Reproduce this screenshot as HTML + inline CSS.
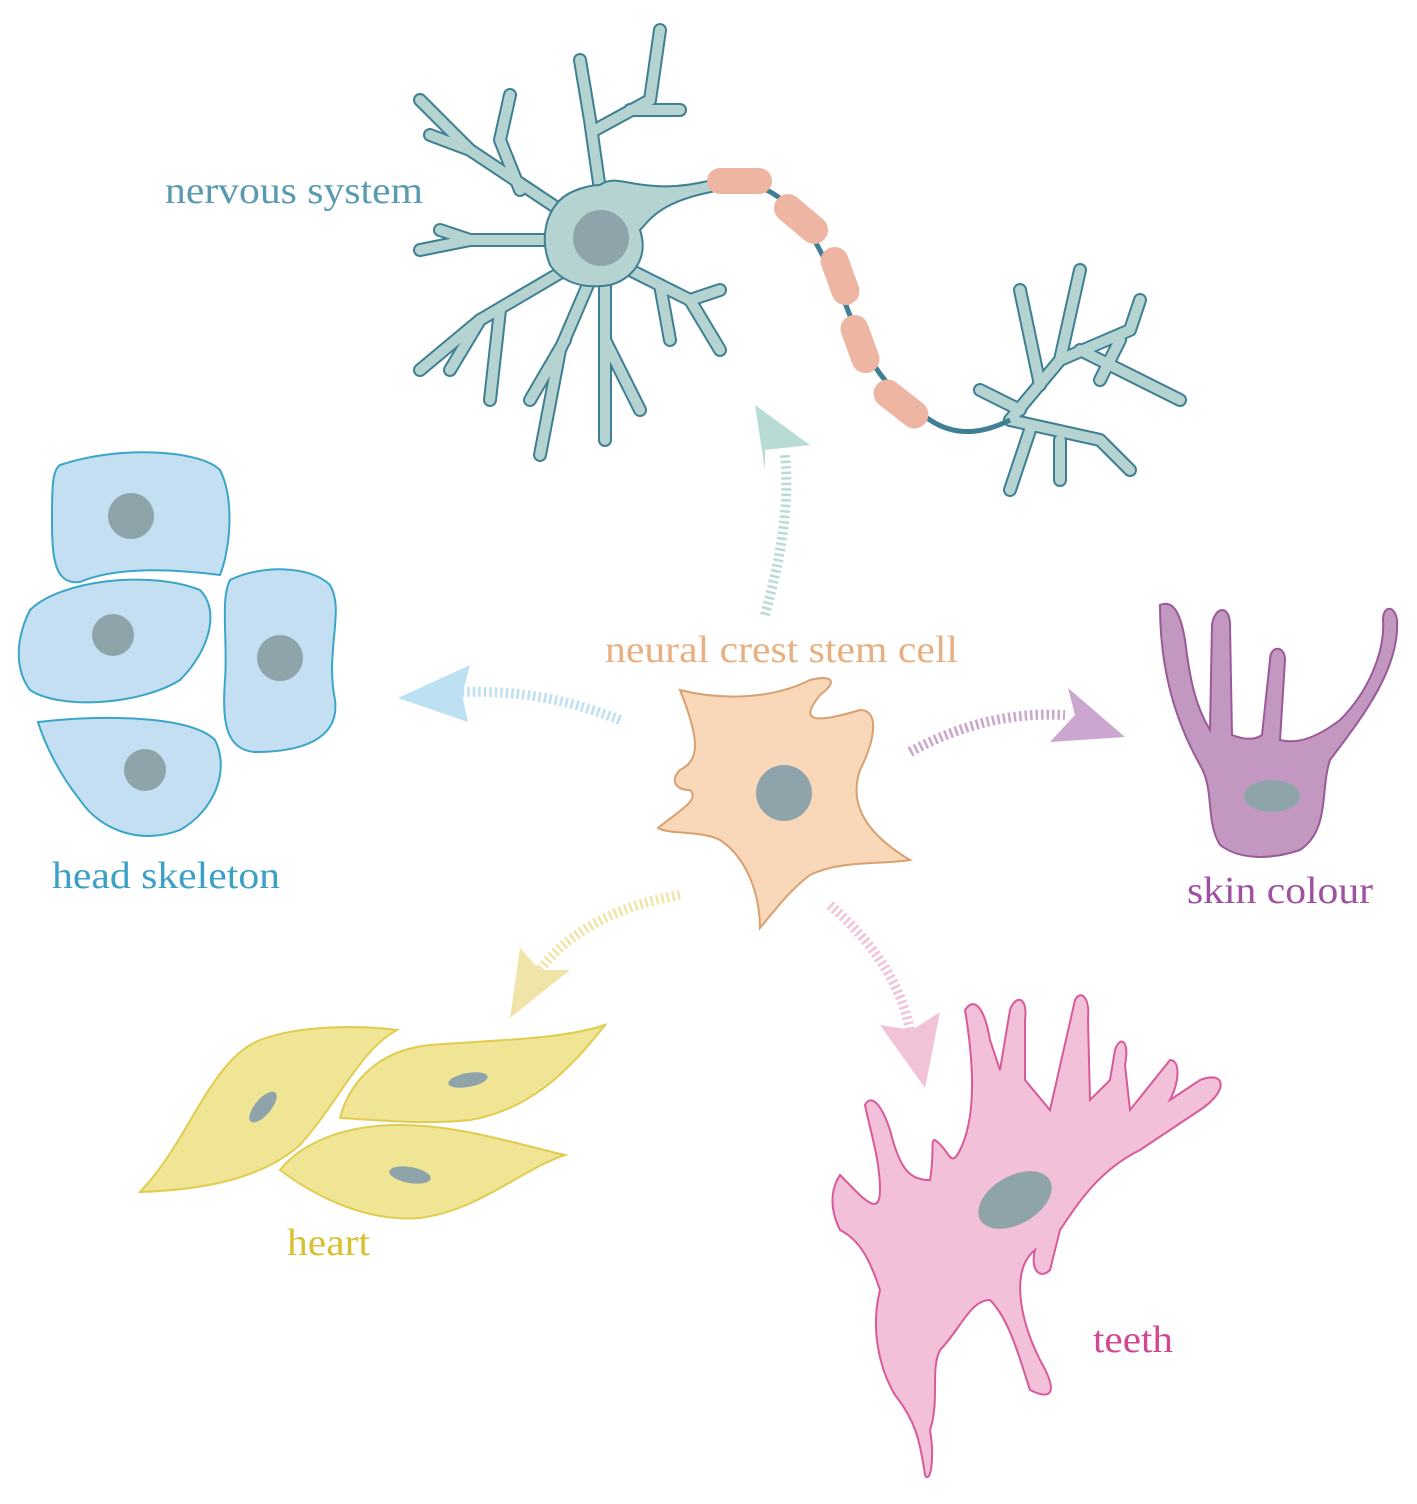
<!DOCTYPE html>
<html><head><meta charset="utf-8"><style>
html,body{margin:0;padding:0;background:#fff}
svg{display:block}
text{font-family:"Liberation Serif",serif;font-size:38px}
</style></head><body>
<svg width="1417" height="1504" viewBox="0 0 1417 1504" xmlns="http://www.w3.org/2000/svg">
<defs>
<g id="dend">
<path d="M560 210 L470 150 L420 100"/><path d="M470 150 L430 135"/><path d="M520 190 L500 140 L510 95"/>
<path d="M600 190 L590 120 L580 60"/><path d="M595 130 L650 100 L660 30"/><path d="M630 110 L680 110"/>
<path d="M560 240 L470 240 L420 250"/><path d="M470 240 L440 230"/>
<path d="M565 270 L480 320 L420 370"/><path d="M480 320 L450 370"/><path d="M500 310 L490 400"/>
<path d="M590 280 L560 350 L540 455"/><path d="M565 340 L530 400"/><path d="M605 285 L605 440"/><path d="M605 340 L640 410"/>
<path d="M630 270 L690 300 L720 350"/><path d="M660 285 L670 340"/><path d="M690 300 L720 290"/>
<path d="M1010 420 L1060 360 L1080 270"/><path d="M1040 385 L1020 290"/><path d="M1060 360 L1130 330 L1140 300"/><path d="M1080 350 L1180 400"/>
<path d="M1010 420 L1100 440 L1130 470"/><path d="M1030 430 L1010 490"/><path d="M1060 440 L1060 480"/><path d="M1020 410 L980 390"/><path d="M1100 380 L1120 340"/>
</g>
</defs>
<g fill="none" stroke-linecap="round" stroke-linejoin="round">
<use href="#dend" stroke="#3e7f93" stroke-width="14"/>
<use href="#dend" stroke="#b5d3d0" stroke-width="10"/>
</g>
<path d="M600 185 C620 170 640 200 720 178 L722 190 C660 200 650 220 640 230 C650 260 630 280 610 285 C580 290 560 280 550 265 C540 240 545 215 560 200 C570 190 590 185 600 185Z" fill="#b5d3d0" stroke="#3e7f93" stroke-width="2"/>
<circle cx="601" cy="238" r="28" fill="#8fa4aa"/>
<path d="M720 180 C790 180 810 230 840 290 C860 340 870 380 930 420 C960 440 990 430 1010 420" stroke="#3e7f93" stroke-width="5" fill="none"/>
<g fill="#eeb5a3">
<rect x="707" y="168" width="65" height="26" rx="13"/>
<rect x="770" y="205" width="62" height="28" rx="14" transform="rotate(40 801 219)"/>
<rect x="810" y="262" width="60" height="28" rx="14" transform="rotate(70 840 276)"/>
<rect x="830" y="330" width="60" height="28" rx="14" transform="rotate(70 860 344)"/>
<rect x="870" y="390" width="62" height="28" rx="14" transform="rotate(38 901 404)"/>
</g>
<g fill="#c5dff2" stroke="#3aa6c7" stroke-width="2">
<path d="M60 465 C120 445 200 450 220 470 C235 500 230 550 220 575 C180 570 120 565 80 582 C55 585 52 560 52 520 C52 490 52 470 60 465Z"/>
<path d="M30 610 C60 580 150 570 200 590 C220 610 210 650 180 680 C140 705 60 710 30 690 C15 670 15 640 30 610Z"/>
<path d="M230 580 C260 565 310 565 330 585 C345 610 325 650 335 700 C340 740 300 752 255 752 C225 750 222 720 225 680 C228 640 220 600 230 580Z"/>
<path d="M38 722 C100 715 190 715 215 740 C230 770 215 810 180 830 C140 845 100 830 80 800 C60 775 45 745 38 722Z"/>
</g>
<g fill="#8fa4aa"><circle cx="131" cy="516" r="23"/><circle cx="113" cy="635" r="21"/><circle cx="280" cy="658" r="23"/><circle cx="145" cy="770" r="21"/></g>
<path d="M680 690 C720 700 770 700 810 680 C830 675 840 680 820 695 C800 720 810 725 860 710 C880 710 875 740 860 770 C850 800 860 830 910 860 C880 865 840 860 810 875 C790 890 775 910 760 928 C760 900 750 860 720 840 C700 830 670 835 658 828 C680 810 700 800 690 790 C675 790 670 780 680 770 C700 760 700 740 680 690Z" fill="#f8d8b8" stroke="#d9a070" stroke-width="2"/>
<circle cx="784" cy="793" r="28" fill="#8fa4aa"/>
<path d="M1160 605 C1172 600 1180 610 1185 640 C1190 680 1195 705 1210 730 L1212 625 C1215 605 1230 605 1230 625 L1232 735 C1245 740 1255 740 1262 735 L1270 660 C1270 645 1285 645 1285 660 L1280 740 C1300 745 1320 735 1340 720 C1370 690 1385 650 1383 620 C1383 605 1395 605 1397 620 C1400 670 1360 720 1330 760 C1320 790 1330 830 1300 850 C1270 860 1240 860 1220 845 C1205 820 1215 790 1200 765 C1175 720 1160 670 1160 605Z" fill="#c298c0" stroke="#9a5a98" stroke-width="2"/>
<ellipse cx="1272" cy="796" rx="28" ry="16" fill="#8fa4aa"/>
<g fill="#f0e594" stroke="#e0cc50" stroke-width="2">
<path d="M140 1192 C190 1140 210 1060 260 1040 C300 1025 360 1025 397 1030 C360 1050 340 1100 300 1145 C260 1180 200 1190 140 1192Z"/>
<path d="M340 1118 C350 1080 380 1050 430 1045 C490 1040 560 1040 605 1025 C570 1070 530 1110 470 1120 C420 1125 380 1120 340 1118Z"/>
<path d="M280 1170 C300 1145 340 1125 400 1125 C460 1125 520 1145 565 1155 C520 1170 480 1210 420 1218 C370 1222 320 1200 280 1170Z"/>
</g>
<g fill="#8fa4aa"><ellipse cx="263" cy="1107" rx="8" ry="19" transform="rotate(40 263 1107)"/><ellipse cx="468" cy="1080" rx="20" ry="7" transform="rotate(-10 468 1080)"/><ellipse cx="410" cy="1175" rx="21" ry="8" transform="rotate(10 410 1175)"/></g>
<path d="M965 1010 C975 995 985 1010 990 1040 L1000 1070 L1010 1010 C1015 995 1028 995 1025 1020 L1025 1080 L1050 1110 L1075 1000 C1080 990 1090 995 1088 1020 L1090 1100 L1110 1080 L1115 1050 C1120 1035 1130 1040 1125 1065 L1130 1110 L1170 1060 C1180 1060 1180 1080 1170 1100 L1200 1080 C1225 1070 1230 1090 1200 1110 L1140 1150 C1100 1170 1080 1200 1060 1230 L1050 1270 C1040 1280 1030 1270 1035 1250 C1010 1270 1020 1320 1040 1360 C1060 1395 1050 1400 1030 1390 C1020 1360 1010 1320 990 1300 C970 1300 960 1330 940 1350 C930 1370 940 1400 930 1430 C935 1460 930 1485 925 1475 C920 1440 915 1420 895 1395 C880 1370 870 1330 880 1290 C870 1260 860 1240 840 1230 C830 1210 830 1190 840 1175 C860 1195 880 1220 880 1190 C880 1160 870 1130 865 1105 C870 1095 880 1100 890 1130 C900 1170 910 1180 930 1180 C935 1150 930 1140 935 1140 C950 1150 950 1170 960 1150 C975 1120 975 1070 965 1010Z" fill="#f2c0d8" stroke="#d85a9a" stroke-width="2"/>
<ellipse cx="1015" cy="1200" rx="40" ry="24" transform="rotate(-30 1015 1200)" fill="#8fa4aa"/>
<g fill="none" stroke-width="10" stroke-dasharray="2.5 3">
<path d="M765 615 C780 560 790 510 785 455" stroke="#b9dbd6"/>
<path d="M620 720 C570 700 520 690 460 692" stroke="#bde0f3"/>
<path d="M910 752 C960 725 1010 712 1065 715" stroke="#cba6ce"/>
<path d="M680 895 C620 905 570 930 540 970" stroke="#f1e4a8"/>
<path d="M830 905 C870 940 900 980 910 1030" stroke="#f2c2d8"/>
</g>
<g>
<polygon points="755,405 810,445 765,450 765,470" fill="#b9dbd6"/>
<polygon points="398,698 470,665 462,695 468,722" fill="#bde0f3"/>
<polygon points="1125,737 1068,688 1075,715 1050,742" fill="#cba6ce"/>
<polygon points="510,1018 520,948 540,970 570,970" fill="#f1e4a8"/>
<polygon points="925,1088 880,1025 912,1030 940,1012" fill="#f2c2d8"/>
</g>
<text x="165" y="203" fill="#5a9ab0" textLength="258" lengthAdjust="spacingAndGlyphs">nervous system</text>
<text x="605" y="662" fill="#e8b080" textLength="353" lengthAdjust="spacingAndGlyphs">neural crest stem cell</text>
<text x="52" y="888" fill="#3aa0c8" textLength="228" lengthAdjust="spacingAndGlyphs">head skeleton</text>
<text x="1187" y="903" fill="#a050a0" textLength="186" lengthAdjust="spacingAndGlyphs">skin colour</text>
<text x="287" y="1255" fill="#d8c030" textLength="83" lengthAdjust="spacingAndGlyphs">heart</text>
<text x="1093" y="1352" fill="#d04890" textLength="80" lengthAdjust="spacingAndGlyphs">teeth</text>
</svg>
</body></html>
